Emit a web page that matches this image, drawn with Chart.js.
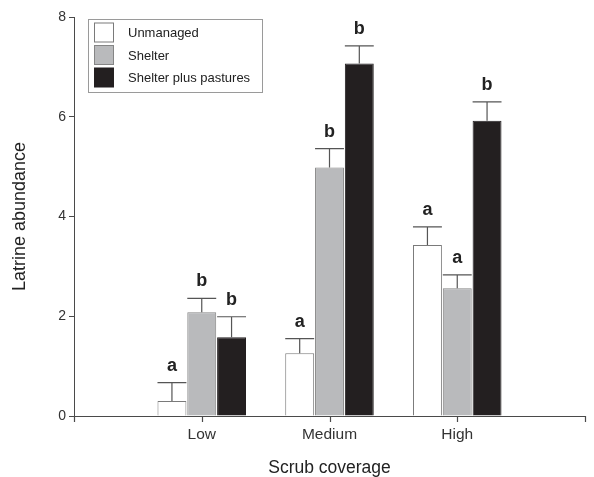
<!DOCTYPE html>
<html lang="en">
<head>
    <meta charset="UTF-8">
    <title>Latrine abundance by scrub coverage</title>
    <script src="https://cdn.jsdelivr.net/npm/chart.js"></script>
    <style>
        body { margin: 0; background: #fff; }
        .chart-container { width: 594px; height: 477px; }
    </style>
</head>
<body>
    <div class="chart-container">
        <canvas id="latrineChart"></canvas>
    </div>

    <script>
        const categories = ['Low', 'Medium', 'High'];
        const seriesNames = ['Unmanaged', 'Shelter', 'Shelter plus pastures'];

        // mean latrine abundance per coverage class
        const unmanaged = [0.30, 1.26, 3.43];
        const shelter = [2.08, 4.98, 2.56];
        const shelterPastures = [1.58, 7.07, 5.92];

        // standard errors (upper whisker only)
        const unmanagedSE = [0.37, 0.29, 0.36];
        const shelterSE = [0.28, 0.38, 0.27];
        const shelterPasturesSE = [0.41, 0.35, 0.38];

        // significance letters
        const unmanagedLetters = ['a', 'a', 'a'];
        const shelterLetters = ['b', 'b', 'a'];
        const shelterPasturesLetters = ['b', 'b', 'b'];

        const yTicks = [0, 2, 4, 6, 8];

        const fills = ['#ffffff', '#b9babc', '#231f20'];
        const borders = ['#7a7a7a', '#858585', '#231f20'];
        const FONT = '"Liberation Sans", Arial, Helvetica, sans-serif';
        const axisColor = '#4a4a4a';

        // empty slots on each side so the groups sit at 1/4, 2/4, 3/4 of the axis
        const labels = [''].concat(categories, ['']);
        const pad = arr => [null].concat(arr, [null]);

        const seriesValues = [unmanaged, shelter, shelterPastures];
        const seriesErrors = [unmanagedSE, shelterSE, shelterPasturesSE];
        const seriesLetters = [unmanagedLetters, shelterLetters, shelterPasturesLetters];

        const datasets = seriesNames.map((name, i) => ({
            label: name,
            data: pad(seriesValues[i]),
            backgroundColor: fills[i],
            borderColor: borders[i],
            borderWidth: 1,
            categoryPercentage: 0.70,
            barPercentage: 0.97
        }));

        const errorBars = {
            id: 'errorBars',
            afterDatasetsDraw(chart) {
                const ctx = chart.ctx;
                const y = chart.scales.y;
                ctx.save();
                seriesValues.forEach((vals, di) => {
                    const meta = chart.getDatasetMeta(di);
                    vals.forEach((v, ci) => {
                        const bar = meta.data[ci + 1];
                        const top = y.getPixelForValue(v);
                        const cap = y.getPixelForValue(v + seriesErrors[di][ci]);
                        const half = bar.width / 2;
                        ctx.strokeStyle = '#555';
                        ctx.lineWidth = 1.2;
                        ctx.beginPath();
                        ctx.moveTo(bar.x, top);
                        ctx.lineTo(bar.x, cap);
                        ctx.moveTo(bar.x - half, cap);
                        ctx.lineTo(bar.x + half, cap);
                        ctx.stroke();

                        ctx.fillStyle = '#222';
                        ctx.font = 'bold 18px ' + FONT;
                        ctx.textAlign = 'center';
                        ctx.textBaseline = 'middle';
                        ctx.fillText(seriesLetters[di][ci], bar.x, cap - 17);
                    });
                });
                ctx.restore();
            }
        };

        // outward tick marks under the category axis, one per label slot
        const xTickMarks = {
            id: 'xTickMarks',
            afterDraw(chart) {
                const x = chart.scales.x;
                const ctx = chart.ctx;
                ctx.save();
                ctx.strokeStyle = axisColor;
                ctx.lineWidth = 1.2;
                ctx.beginPath();
                labels.forEach((_, i) => {
                    const px = Math.round(x.getPixelForTick(i)) + 0.5;
                    ctx.moveTo(px, x.top);
                    ctx.lineTo(px, x.top + 6);
                });
                ctx.stroke();
                ctx.restore();
            }
        };

        const boxLegend = {
            id: 'boxLegend',
            afterDraw(chart) {
                const ctx = chart.ctx;
                ctx.save();
                ctx.strokeStyle = '#9a9a9a';
                ctx.lineWidth = 1;
                ctx.strokeRect(88.5, 19.5, 174, 73);
                ctx.font = '13px ' + FONT;
                ctx.textAlign = 'left';
                ctx.textBaseline = 'middle';
                seriesNames.forEach((name, i) => {
                    const cy = 32.5 + i * 22.5;
                    ctx.fillStyle = fills[i];
                    ctx.fillRect(94.5, cy - 9.5, 19, 19);
                    ctx.strokeStyle = borders[i];
                    ctx.strokeRect(94.5, cy - 9.5, 19, 19);
                    ctx.fillStyle = '#222';
                    ctx.fillText(name, 128, cy + 1);
                });
                ctx.restore();
            }
        };

        new Chart(document.getElementById('latrineChart'), {
            type: 'bar',
            data: { labels: labels, datasets: datasets },
            plugins: [errorBars, xTickMarks, boxLegend],
            options: {
                responsive: true,
                maintainAspectRatio: false,
                animation: false,
                layout: { padding: { top: 17, right: 5, left: 0, bottom: 0 } },
                plugins: {
                    legend: { display: false },
                    tooltip: { enabled: false }
                },
                scales: {
                    x: {
                        offset: false,
                        afterFit(scale) { scale.height = 61; },
                        grid: {
                            offset: false,
                            display: false,
                            drawTicks: false
                        },
                        border: { display: true, color: axisColor, width: 1 },
                        ticks: {
                            padding: 9,
                            color: '#333',
                            font: { family: FONT, size: 15.5 },
                            maxRotation: 0,
                            autoSkip: false
                        },
                        title: {
                            display: true,
                            text: 'Scrub coverage',
                            color: '#222',
                            font: { family: FONT, size: 17.5, lineHeight: 1 },
                            padding: { top: 0, bottom: 0 }
                        }
                    },
                    y: {
                        min: 0,
                        max: 8,
                        afterFit(scale) { scale.width = 74; },
                        afterBuildTicks(scale) {
                            scale.ticks = yTicks.map(v => ({ value: v }));
                        },
                        grid: {
                            drawOnChartArea: false,
                            drawTicks: true,
                            tickLength: 5,
                            color: axisColor
                        },
                        border: { color: axisColor, width: 1 },
                        ticks: {
                            padding: 3,
                            color: '#333',
                            font: { family: FONT, size: 14 }
                        },
                        title: {
                            display: true,
                            text: 'Latrine abundance',
                            color: '#222',
                            font: { family: FONT, size: 18 },
                            padding: { top: 9, bottom: 0 }
                        }
                    }
                }
            }
        });
    </script>
</body>
</html>
